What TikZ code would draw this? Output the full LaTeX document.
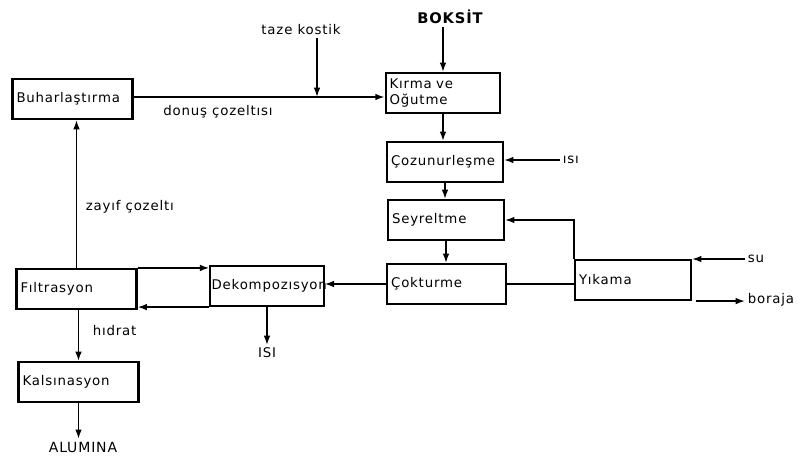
\documentclass[tikz,border=0pt]{standalone}
\usepackage{fontspec}
\setmainfont{DejaVu Sans}[LetterSpace=6]
\usetikzlibrary{arrows.meta,positioning}
\tikzset{
  box/.style={draw=black, line width=1.6pt, fill=white, align=left,
              font=\fontsize{10}{12}\selectfont, inner xsep=3pt, inner ysep=3pt,
              minimum height=30pt, text width=#1},
  box/.default=80pt,
  arr/.style={-{Latex[length=7pt,width=5pt]}, line width=1.2pt},
  ln/.style={line width=1.2pt},
  lbl/.style={font=\fontsize{10}{12}\selectfont, inner sep=2pt}
}

\begin{document}
\begin{tikzpicture}[x=0.75pt,y=-0.75pt]
  \useasboundingbox (0,0) rectangle (798,460);

  \node[box=84pt] (buhar) at (72.5,99) {Buharlaştırma};
  \node[box=80pt] (kirma) at (443,93)
    {Kırma ve\\Oğutme};
  \node[box=81pt] (cozun) at (445,162) {Çozunurleşme};
  \node[box=81pt] (seyrel) at (446,220) {Seyreltme};
  \node[box=83pt] (coktur) at (446.5,284) {Çokturme};
  \node[box=81pt] (yikama) at (633,280) {Yıkama};
  \node[box=83pt, inner xsep=1pt] (dekomp) at (267,286) {Dekompozısyon};
  \node[box=84pt] (filtr) at (76.5,289) {Fıltrasyon};
  \node[box=84pt] (kalsin) at (78.5,382) {Kalsınasyon};

  \node[lbl, font=\fontsize{11}{13}\selectfont\bfseries] (boksit) at (450,17) {BOKSİT};
  \node[lbl] (taze) at (301,30) {taze kostik};
  \node[lbl] (donus) at (218,112) {donuş çozeltısı};
  \node[lbl, anchor=west] (isi1) at (560,160) {ısı};
  \node[lbl, anchor=west] (zayif) at (83,207) {zayıf çozeltı};
  \node[lbl, anchor=west] (su) at (745,259) {su};
  \node[lbl, anchor=west] (boraja) at (745,300) {boraja};
  \node[lbl, anchor=west] (hidrat) at (90,331) {hıdrat};
  \node[lbl] (isi2) at (267,353) {ISI};
  \node[lbl, font=\fontsize{10.5}{12}\selectfont] (alumina) at (83,447) {ALUMINA};

  \coordinate (tazein) at (317,97);

  \draw[arr] (boksit.south -| kirma.north) -- (kirma.north);
  \draw[arr] (buhar.east |- tazein) -- (tazein -| kirma.west);
  \draw[arr] (taze.south -| tazein) -- (tazein);
  \draw[arr] (kirma.south) -- (kirma.south |- cozun.north);
  \draw[arr] (isi1.west) -- (isi1.west -| cozun.east);
  \draw[arr] (cozun.south) -- (cozun.south |- seyrel.north);
  \draw[arr] (seyrel.south) -- (seyrel.south |- coktur.north);
  \draw[ln] (coktur.east) -- (coktur.east -| yikama.west);
  \draw[arr] (yikama.north west) |- (seyrel.east);
  \draw[arr] (su.west) -- (su.west -| yikama.east);
  \draw[arr] ([xshift=3pt]yikama.south east) -- (yikama.south east -| boraja.west);
  \draw[arr] (coktur.west) -- (coktur.west -| dekomp.east);
  \draw[arr] (dekomp.south) -- (isi2.north);
  \draw[arr] (filtr.north east) -- (filtr.north east -| dekomp.west);
  \draw[arr] (dekomp.south west) -- (dekomp.south west -| filtr.east);
  \draw[arr] (filtr.north) -- (filtr.north |- buhar.south);
  \draw[arr] (kalsin.north |- filtr.south) -- (kalsin.north);
  \draw[arr] (kalsin.south) -- (kalsin.south |- alumina.north);
\end{tikzpicture}
\end{document}
